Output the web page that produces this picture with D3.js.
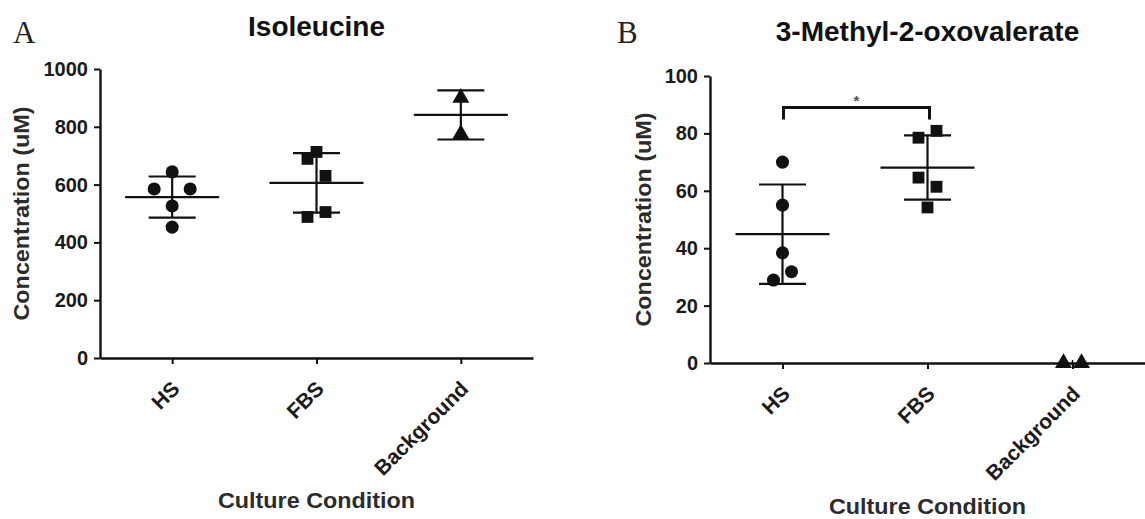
<!DOCTYPE html>
<html>
<head>
<meta charset="utf-8">
<script src="https://cdn.jsdelivr.net/npm/d3@7"></script>
<style>
  html, body { margin: 0; padding: 0; background: #fff; }
  svg { display: block; }
  .tick text { font-family: "Liberation Sans", Arial, sans-serif; font-weight: bold; font-size: 20px; fill: #1a1a1a; }
  .xcat .tick text { font-size: 21px; }
</style>
</head>
<body>
<svg id="chart" width="1145" height="519"></svg>
<script>
// ---------- data ----------
const categories = ["HS", "FBS", "Background"];

// Panel A: Isoleucine (uM)
const isoHS  = [644, 585, 585, 526, 453];
const isoFBS = [713, 689, 630, 505, 488];
const isoBG  = [900, 775];
const isoMean = [557, 606, 841];
const isoSD   = [71, 103, 85];
const isoTicks = [0, 200, 400, 600, 800, 1000];

// Panel B: 3-Methyl-2-oxovalerate (uM)
const movHS  = [70, 55, 38.4, 31.8, 28.9];
const movFBS = [78.5, 80.9, 64.6, 61.4, 54.2];
const movBG  = [0, 0];
const movMean = [44.9, 68.1, 0];
const movSD   = [17.3, 11.2, 0];
const movTicks = [0, 20, 40, 60, 80, 100];

// Dot-plot column index assigned to each point (Prism scatter layout)
const isoHSCol  = [0, -2, 2, 0, 0];
const isoFBSCol = [0, -1, 1, 1, -1];
const isoBGCol  = [0, 0];
const movHSCol  = [0, 0, 0, 1, -1];
const movFBSCol = [-1, 1, -1, 1, 0];
const movBGCol  = [-1, 1];

// significance annotation (panel B)
const sigFrom = "HS", sigTo = "FBS", sigValue = 89, sigLabel = "*";

// ---------- drawing ----------
const svg = d3.select("#chart");
const sans = '"Liberation Sans", Arial, sans-serif';
const ink = "#111";
const shapes = [d3.symbolCircle, d3.symbolSquare, d3.symbolTriangle];

function panel(cfg) {
  const x = d3.scalePoint().domain(categories).range(cfg.xRange).padding(0.5);
  const y = d3.scaleLinear().domain([0, cfg.yMax]).range(cfg.yRange);
  const g = svg.append("g");

  // y axis
  const ya = g.append("g")
    .attr("transform", `translate(${cfg.xRange[0]},0)`)
    .call(d3.axisLeft(y).tickValues(cfg.ticks).tickSize(6).tickPadding(6).tickSizeOuter(0).tickFormat(d3.format("d")));
  // x axis
  const xa = g.append("g").attr("class", "xcat")
    .attr("transform", `translate(0,${cfg.yRange[0]})`)
    .call(d3.axisBottom(x).tickSize(6).tickSizeOuter(0));
  [ya, xa].forEach(a => {
    a.select(".domain").attr("stroke", ink).attr("stroke-width", 2.4);
    a.selectAll(".tick line").attr("stroke", ink).attr("stroke-width", 2);
  });
  xa.selectAll(".tick text")
    .attr("transform", "translate(3,27) rotate(-45)")
    .attr("text-anchor", "end")
    .attr("dy", "0.35em")
    .attr("x", 0).attr("y", 0);

  // points
  const colStep = 9;
  const symSize = [135, 140, 125];
  cfg.groups.forEach((vals, gi) => {
    const cat = categories[gi];
    const sym = d3.symbol().type(shapes[gi]).size(symSize[gi]);
    g.selectAll(null).data(vals).enter().append("path")
      .attr("d", sym)
      .attr("fill", ink)
      .attr("transform", (d, i) => `translate(${x(cat) + cfg.cols[gi][i] * colStep},${y(d)})`);
  });

  // mean and SD bars
  const meanHalf = 47, capHalf = 23.5;
  categories.forEach((cat, i) => {
    const cx = x(cat);
    const m = cfg.mean[i], s = cfg.sd[i];
    if (m === 0 && s === 0) {
      // collapsed bar: only a small stub shows between the points
      g.append("line").attr("x1", cx).attr("x2", cx)
        .attr("y1", y(0) - 3).attr("y2", y(0) + 3)
        .attr("stroke", ink).attr("stroke-width", 1.5);
      return;
    }
    const lines = [
      [cx - meanHalf, y(m), cx + meanHalf, y(m)],
      [cx, y(m + s), cx, y(m - s)],
      [cx - capHalf, y(m + s), cx + capHalf, y(m + s)],
      [cx - capHalf, y(m - s), cx + capHalf, y(m - s)]
    ];
    g.selectAll(null).data(lines).enter().append("line")
      .attr("x1", d => d[0]).attr("y1", d => d[1])
      .attr("x2", d => d[2]).attr("y2", d => d[3])
      .attr("stroke", ink).attr("stroke-width", 2.2);
  });

  // titles
  const xMid = (cfg.xRange[0] + cfg.xRange[1]) / 2;
  g.append("text").text(cfg.title)
    .attr("x", xMid).attr("y", cfg.titleY)
    .attr("text-anchor", "middle")
    .attr("font-family", sans).attr("font-weight", "bold").attr("font-size", 28).attr("fill", ink);
  g.append("text").text(cfg.letter)
    .attr("x", cfg.letterX).attr("y", 43)
    .attr("font-family", '"Liberation Serif", "Times New Roman", serif').attr("font-size", 31).attr("fill", "#222");
  g.append("text").text("Concentration (uM)")
    .attr("transform", `translate(${cfg.yLabelX},${(cfg.yRange[0] + cfg.yRange[1]) / 2}) rotate(-90)`)
    .attr("text-anchor", "middle")
    .attr("textLength", 214).attr("lengthAdjust", "spacingAndGlyphs")
    .attr("font-family", sans).attr("font-weight", "bold").attr("font-size", 22).attr("fill", "#2b2b2b");
  g.append("text").text("Culture Condition")
    .attr("x", xMid).attr("y", cfg.xLabelY)
    .attr("text-anchor", "middle")
    .attr("textLength", 197).attr("lengthAdjust", "spacingAndGlyphs")
    .attr("font-family", sans).attr("font-weight", "bold").attr("font-size", 22.5).attr("fill", "#2b2b2b");

  return { x, y, g };
}

panel({
  xRange: [100, 533], yRange: [358, 69], yMax: 1000, ticks: isoTicks,
  groups: [isoHS, isoFBS, isoBG], cols: [isoHSCol, isoFBSCol, isoBGCol],
  mean: isoMean, sd: isoSD,
  title: "Isoleucine", titleY: 36, letter: "A", letterX: 13,
  yLabelX: 29, xLabelY: 508
});

const pB = panel({
  xRange: [710, 1145], yRange: [363, 76], yMax: 100, ticks: movTicks,
  groups: [movHS, movFBS, movBG], cols: [movHSCol, movFBSCol, movBGCol],
  mean: movMean, sd: movSD,
  title: "3-Methyl-2-oxovalerate", titleY: 41, letter: "B", letterX: 617,
  yLabelX: 651, xLabelY: 514
});

// significance bracket
const bx1 = pB.x(sigFrom) + 1, bx2 = pB.x(sigTo) + 2, by = pB.y(sigValue);
pB.g.append("path")
  .attr("d", `M${bx1},${by + 12}V${by}H${bx2}V${by + 12}`)
  .attr("fill", "none").attr("stroke", ink).attr("stroke-width", 3);
pB.g.append("text").text(sigLabel)
  .attr("x", (bx1 + bx2) / 2).attr("y", by - 2)
  .attr("text-anchor", "middle")
  .attr("font-family", sans).attr("font-weight", "bold").attr("font-size", 15).attr("fill", "#555");
</script>
</body>
</html>
